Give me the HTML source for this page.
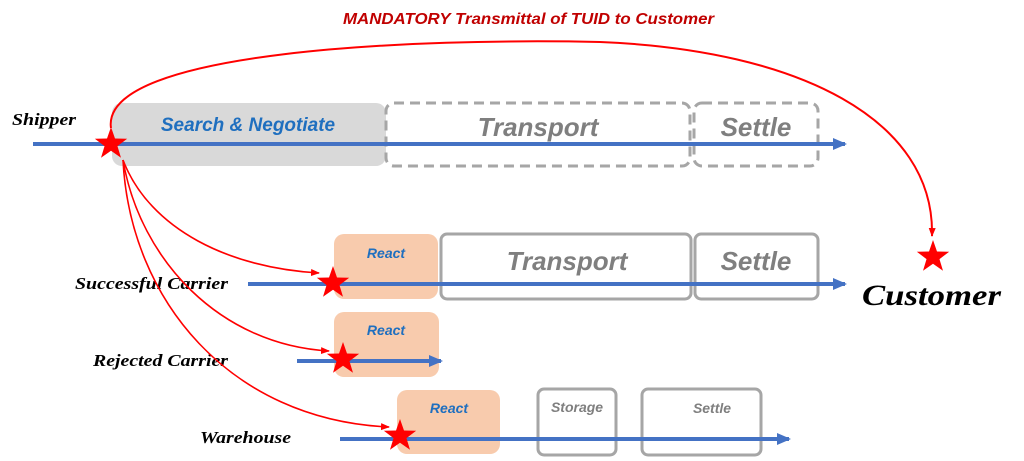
<!DOCTYPE html>
<html><head><meta charset="utf-8"><style>
html,body{margin:0;padding:0;background:#fff;width:1024px;height:461px;overflow:hidden}
svg text{font-family:"Liberation Sans",sans-serif}
.lab{font-family:"Liberation Serif",serif;font-style:italic;font-weight:bold;fill:#000}
.g{fill:#7f7f7f;font-style:italic;font-weight:bold}
.b{fill:#1f6fbf;font-style:italic;font-weight:bold}
</style></head><body>
<svg width="1024" height="461" viewBox="0 0 1024 461" xmlns="http://www.w3.org/2000/svg">
<defs>
<marker id="ba" markerWidth="14" markerHeight="14" refX="12" refY="7" orient="auto" markerUnits="userSpaceOnUse"><path d="M0,1 L14,7 L0,13 z" fill="#4472c4"/></marker>
<marker id="ra" markerWidth="9" markerHeight="9" refX="8" refY="4.5" orient="auto" markerUnits="userSpaceOnUse"><path d="M0,1 L9,4.5 L0,8 z" fill="#f00"/></marker>
<polygon id="st" points="0,-17 4,-5.5 16.17,-5.25 6.47,2.1 9.99,13.75 0,6.8 -9.99,13.75 -6.47,2.1 -16.17,-5.25 -4,-5.5" fill="#f00"/>
</defs>
<text x="343" y="24" textLength="371" lengthAdjust="spacingAndGlyphs" font-size="16" font-style="italic" font-weight="bold" fill="#c00000">MANDATORY Transmittal of TUID to Customer</text>

<!-- Shipper -->
<text x="12" y="125" class="lab" font-size="17" textLength="64" lengthAdjust="spacingAndGlyphs">Shipper</text>
<rect x="112" y="103" width="274" height="63" rx="10" fill="#d9d9d9"/>
<rect x="386" y="103" width="304" height="63" rx="8" fill="none" stroke="#a6a6a6" stroke-width="3" stroke-dasharray="10,6"/>
<rect x="694" y="103" width="124" height="63" rx="8" fill="none" stroke="#a6a6a6" stroke-width="3" stroke-dasharray="10,6"/>
<text x="248" y="131" text-anchor="middle" font-size="19" class="b">Search &amp; Negotiate</text>
<text x="538" y="136" text-anchor="middle" font-size="26" class="g">Transport</text>
<text x="756" y="136" text-anchor="middle" font-size="26" class="g">Settle</text>
<line x1="33" y1="144" x2="845" y2="144" stroke="#4472c4" stroke-width="4" marker-end="url(#ba)"/>

<!-- Successful carrier -->
<text x="75" y="289" class="lab" font-size="17" textLength="153" lengthAdjust="spacingAndGlyphs">Successful Carrier</text>
<rect x="334" y="234" width="104" height="65" rx="10" fill="#f8cbad"/>
<rect x="441" y="234" width="250" height="65" rx="6" fill="none" stroke="#a6a6a6" stroke-width="3"/>
<rect x="695" y="234" width="123" height="65" rx="6" fill="none" stroke="#a6a6a6" stroke-width="3"/>
<text x="386" y="258" text-anchor="middle" font-size="14" class="b">React</text>
<text x="567" y="270" text-anchor="middle" font-size="26" class="g">Transport</text>
<text x="756" y="270" text-anchor="middle" font-size="26" class="g">Settle</text>
<line x1="248" y1="284" x2="845" y2="284" stroke="#4472c4" stroke-width="4" marker-end="url(#ba)"/>

<!-- Rejected -->
<text x="93" y="366" class="lab" font-size="17" textLength="135" lengthAdjust="spacingAndGlyphs">Rejected Carrier</text>
<rect x="334" y="312" width="105" height="65" rx="10" fill="#f8cbad"/>
<text x="386" y="335" text-anchor="middle" font-size="14" class="b">React</text>
<line x1="297" y1="361" x2="441" y2="361" stroke="#4472c4" stroke-width="4" marker-end="url(#ba)"/>

<!-- Warehouse -->
<text x="200" y="443" class="lab" font-size="17" textLength="91" lengthAdjust="spacingAndGlyphs">Warehouse</text>
<rect x="397" y="390" width="103" height="64" rx="10" fill="#f8cbad"/>
<rect x="538" y="389" width="78" height="66" rx="6" fill="none" stroke="#a6a6a6" stroke-width="3"/>
<rect x="642" y="389" width="119" height="66" rx="6" fill="none" stroke="#a6a6a6" stroke-width="3"/>
<text x="449" y="413" text-anchor="middle" font-size="14" class="b">React</text>
<text x="577" y="412" text-anchor="middle" font-size="14" class="g">Storage</text>
<text x="712" y="413" text-anchor="middle" font-size="14" class="g">Settle</text>
<line x1="340" y1="439" x2="789" y2="439" stroke="#4472c4" stroke-width="4" marker-end="url(#ba)"/>

<!-- red connectors -->
<path d="M111,128 C100,50 420,38 600,42 C800,50 935,120 932,236" fill="none" stroke="#f00" stroke-width="2" marker-end="url(#ra)"/>
<path d="M123,160 C150,230 230,268 319,273" fill="none" stroke="#f00" stroke-width="1.6" marker-end="url(#ra)"/>
<path d="M123,160 C140,260 220,345 329,351" fill="none" stroke="#f00" stroke-width="1.6" marker-end="url(#ra)"/>
<path d="M123,160 C130,300 230,420 389,427" fill="none" stroke="#f00" stroke-width="1.6" marker-end="url(#ra)"/>

<use href="#st" x="111" y="144"/>
<use href="#st" x="333" y="283"/>
<use href="#st" x="343" y="359"/>
<use href="#st" x="400" y="436"/>
<use href="#st" x="933" y="257"/>
<text x="862" y="305" class="lab" font-size="30" textLength="139" lengthAdjust="spacingAndGlyphs">Customer</text>
</svg>
</body></html>
